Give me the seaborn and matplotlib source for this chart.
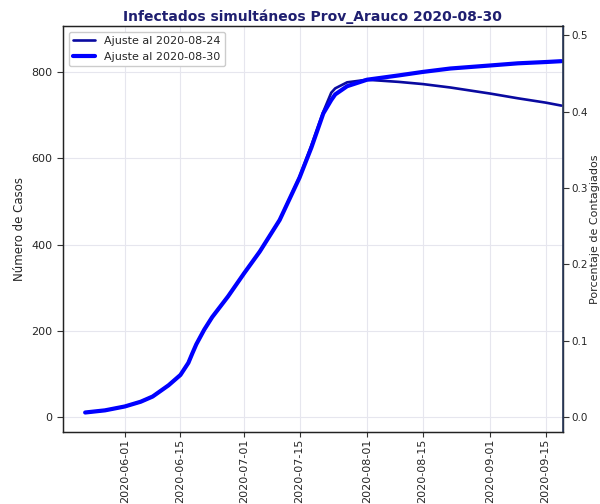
import pandas as pd
import numpy as np
import seaborn as sns
import matplotlib.pyplot as plt
import matplotlib.dates as mdates

# fechas y valores
fechas_0830=['2020-05-22','2020-05-27','2020-06-01','2020-06-05','2020-06-08','2020-06-12',
             '2020-06-15','2020-06-17','2020-06-18','2020-06-19','2020-06-21','2020-06-23','2020-06-25',
             '2020-06-27','2020-07-01','2020-07-05','2020-07-10','2020-07-15','2020-07-18',
             '2020-07-21','2020-07-23','2020-07-24','2020-07-27','2020-08-01','2020-08-09',
             '2020-08-15','2020-08-22','2020-09-01','2020-09-08','2020-09-15','2020-09-19']
casos_0830=[11,16,25,36,48,74,98,126,148,169,203,232,256,280,333,384,457,555,625,
            704,735,748,767,782,792,800,808,815,820,823,825]

fechas_0824=['2020-05-22','2020-05-27','2020-06-01','2020-06-05','2020-06-08','2020-06-12',
             '2020-06-15','2020-06-17','2020-06-18','2020-06-19','2020-06-21','2020-06-23','2020-06-25',
             '2020-06-27','2020-07-01','2020-07-05','2020-07-10','2020-07-15','2020-07-18',
             '2020-07-21','2020-07-23','2020-07-24','2020-07-27','2020-08-01','2020-08-09',
             '2020-08-15','2020-08-22','2020-09-01','2020-09-08','2020-09-15','2020-09-19']
casos_0824=[11,16,25,36,48,74,98,126,148,169,203,232,256,280,333,384,457,557,630,
            708,752,762,776,782,777,772,764,750,739,729,722]

df_a=pd.DataFrame({'Fecha':pd.to_datetime(fechas_0824),'Casos':casos_0824})
df_b=pd.DataFrame({'Fecha':pd.to_datetime(fechas_0830),'Casos':casos_0830})

sns.set_style("whitegrid")
plt.rcParams['font.family']=['DejaVu Sans']

fig=plt.figure(figsize=(6,5.04),dpi=100)
ax=fig.add_axes([0.105,0.143,0.833,0.805])
sns.lineplot(x='Fecha',y='Casos',data=df_a,color='#0a0aa0',linewidth=1.9,label='Ajuste al 2020-08-24',ax=ax)
sns.lineplot(x='Fecha',y='Casos',data=df_b,color='#0000ff',linewidth=3,label='Ajuste al 2020-08-30',ax=ax)

ax.set_xlim(pd.Timestamp('2020-05-16 10:00'),pd.Timestamp('2020-09-19 08:00'))
ax.set_ylim(-34,906)
ax.set_yticks([0,200,400,600,800])
ticks=pd.to_datetime(['2020-06-01','2020-06-15','2020-07-01','2020-07-15',
                      '2020-08-01','2020-08-15','2020-09-01','2020-09-15'])
ax.set_xticks(ticks)
ax.xaxis.set_major_formatter(mdates.DateFormatter('%Y-%m-%d'))
plt.setp(ax.get_xticklabels(),rotation=90)
ax.tick_params(axis='both',labelsize=8,length=4,color='#333333',left=True,bottom=True)
ax.tick_params(axis='x',length=3.5,pad=1.5)
ax.set_xlabel('')
ax.set_ylabel('Número de Casos',fontsize=8.5)
ax.grid(True,color='#e6e6ee',linewidth=0.8)
for s in ax.spines.values():
    s.set_color('#222222')
    s.set_linewidth(1)
ax.legend(loc='upper left',fontsize=8,framealpha=1,edgecolor='#cccccc')

ax2=ax.twinx()
ax2.set_ylim(-0.0196,0.5118)
ax2.set_yticks([0.0,0.1,0.2,0.3,0.4,0.5])
ax2.grid(False)
ax2.tick_params(axis='y',labelsize=7.5,length=4,pad=2,color='#333333',right=True)
ax2.set_ylabel('Porcentaje de Contagiados',fontsize=8)
ax2.yaxis.set_label_coords(1.054,0.5)
for s in ax2.spines.values():
    s.set_color('#222222')
ax2.spines['right'].set_color('#2a3a5a')
ax2.spines['right'].set_linewidth(1.2)

ax.set_title('Infectados simultáneos Prov_Arauco 2020-08-30',fontsize=10,fontweight='bold',color='#1f1f70',pad=4)

fig.savefig('out.png',dpi=100)
